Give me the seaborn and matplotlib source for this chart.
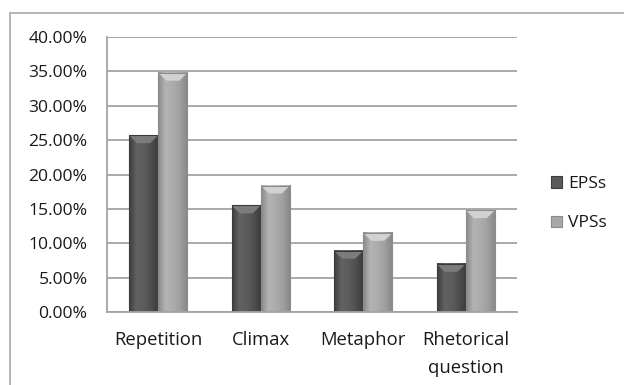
import numpy as np
import pandas as pd
import matplotlib
matplotlib.use("Agg")
import matplotlib.pyplot as plt
import seaborn as sns
from matplotlib.patches import Polygon, Patch
from matplotlib.lines import Line2D
from matplotlib.colors import LinearSegmentedColormap

categories = ["Repetition", "Climax", "Metaphor", "Rhetorical\nquestion"]
eps_values = [25.7, 15.5, 8.9, 7.0]
vps_values = [34.8, 18.4, 11.5, 14.8]
series = ["EPSs", "VPSs"]
y_ticks = [0, 5, 10, 15, 20, 25, 30, 35, 40]
y_tick_labels = [f"{v:.2f}%" for v in y_ticks]

df = pd.DataFrame({
    "category": categories * 2,
    "series": [series[0]] * 4 + [series[1]] * 4,
    "value": eps_values + vps_values,
})

sns.set_theme(style="white")
plt.rcParams["font.family"] = ["Open Sans", "DejaVu Sans"]

base = {"EPSs": "#5a5a5a", "VPSs": "#a8a8a8"}
shades = {
    "EPSs": ["#3e3e3e", "#626262", "#5c5c5c", "#4e4e4e", "#3a3a3a"],
    "VPSs": ["#8a8a8a", "#b4b4b4", "#acacac", "#9e9e9e", "#868686"],
}
bevel = {"EPSs": "#7c7c7c", "VPSs": "#d2d2d2"}
text_color = "#1a1a1a"

fig = plt.figure(figsize=(6.24, 3.85), dpi=100)
ax = fig.add_axes([0.1715, 0.1896, 0.657, 0.7143])

sns.barplot(data=df, x="category", y="value", hue="series",
            palette=base, width=0.57, gap=0, ax=ax, legend=False,
            edgecolor="none", saturation=1)

ax.set_ylim(0, 40)
ax.set_xlim(-0.5, 3.5)
ax.set_yticks(y_ticks)
ax.set_yticklabels(y_tick_labels)
ax.set_xlabel("")
ax.set_ylabel("")
ax.yaxis.grid(True, color="#a3a3a3", linewidth=1.3)
ax.set_axisbelow(True)
for side in ["top", "right"]:
    ax.spines[side].set_visible(False)
for side in ["left", "bottom"]:
    ax.spines[side].set_color("#a3a3a3")
    ax.spines[side].set_linewidth(1.3)
ax.tick_params(axis="both", length=0, colors=text_color)
ax.tick_params(axis="y", labelsize=12.6, pad=14)
ax.tick_params(axis="x", labelsize=13.3, pad=13.5)
for lbl in ax.get_xticklabels():
    lbl.set_linespacing(1.7)

# Cylinder-style shading and bevelled tops on each bar
bars = [p for p in ax.patches if p.get_height() > 0]
series_of_bar = [series[0]] * 4 + [series[1]] * 4
for patch, s in zip(bars, series_of_bar):
    x0, w, h = patch.get_x(), patch.get_width(), patch.get_height()
    cmap = LinearSegmentedColormap.from_list(s, shades[s])
    grad = np.linspace(0, 1, 64).reshape(1, -1)
    ax.imshow(grad, cmap=cmap, aspect="auto", extent=(x0, x0 + w, 0, h),
              zorder=patch.get_zorder() + 0.1, interpolation="bicubic")
    dx = w * 0.28
    dy = 1.15
    top = Polygon([(x0, h), (x0 + w, h), (x0 + w - dx, h - dy), (x0 + dx, h - dy)],
                  closed=True, facecolor=bevel[s], edgecolor="none",
                  zorder=patch.get_zorder() + 0.2)
    ax.add_patch(top)
    ax.add_patch(plt.Rectangle((x0, 0), w, h, fill=False,
                               edgecolor="#8c8c8c" if s == "VPSs" else "#3a3a3a",
                               linewidth=0.8, zorder=patch.get_zorder() + 0.3))
ax.set_xlim(-0.5, 3.5)
ax.set_ylim(0, 40)

handles = [Patch(facecolor=base[s], edgecolor=shades[s][0], linewidth=0.8) for s in series]
fig.legend(handles, series, loc="upper left", bbox_to_anchor=(0.858, 0.583),
           frameon=False, fontsize=12.6, handlelength=0.62, handleheight=0.62,
           handletextpad=0.35, labelspacing=1.32, labelcolor=text_color)

# Chart frame
fig.add_artist(Line2D([10 / 624, 1.0], [1 - 13 / 385, 1 - 13 / 385],
                      transform=fig.transFigure, color="#b0b0b0", linewidth=1.3))
fig.add_artist(Line2D([10 / 624, 10 / 624], [0, 1 - 13 / 385],
                      transform=fig.transFigure, color="#b0b0b0", linewidth=1.3))

fig.savefig("out.png", dpi=100)
